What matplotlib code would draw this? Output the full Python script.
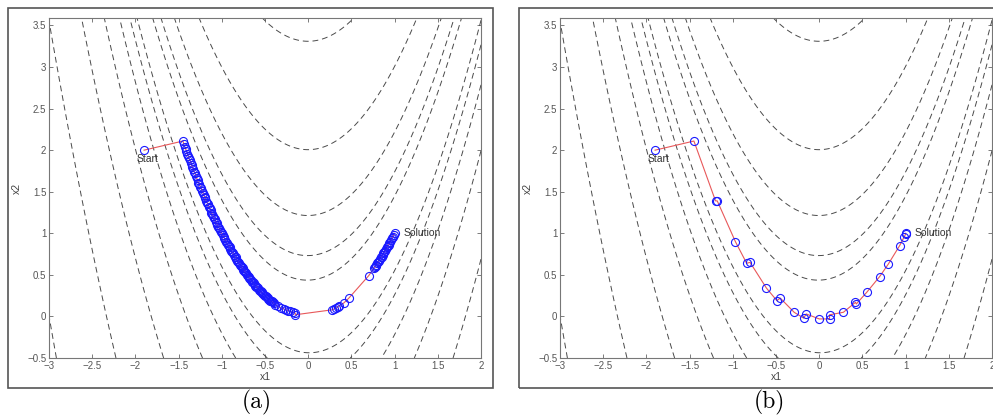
import numpy as np
import matplotlib
matplotlib.use("Agg")
import matplotlib.pyplot as plt
from matplotlib.patches import Rectangle
from matplotlib.ticker import FuncFormatter

# contour levels of the banana function, as exponents of e
level_exps = [3, 4, 5, 6, 7, 8, 9]

xticks = [-3, -2.5, -2, -1.5, -1, -0.5, 0, 0.5, 1, 1.5, 2]
yticks = [-0.5, 0, 0.5, 1, 1.5, 2, 2.5, 3, 3.5]

# (a) steepest descent iterates
a_x1 = [-1.90,
        -1.45, -1.44, -1.43, -1.42, -1.41, -1.40, -1.39, -1.38, -1.37, -1.36,
        -1.35, -1.34, -1.33, -1.32, -1.31, -1.30, -1.29, -1.28, -1.27, -1.26,
        -1.25, -1.24, -1.23, -1.22, -1.21, -1.20, -1.19, -1.18, -1.17, -1.16,
        -1.15, -1.14, -1.13, -1.12, -1.11, -1.10, -1.09, -1.08, -1.07, -1.06,
        -1.05, -1.04, -1.03, -1.02, -1.01, -1.00, -0.99, -0.98, -0.97, -0.96,
        -0.95, -0.94, -0.93, -0.92, -0.91, -0.90, -0.89, -0.88, -0.87, -0.86,
        -0.85, -0.84, -0.83, -0.82, -0.81, -0.80, -0.79, -0.78, -0.77, -0.76,
        -0.75, -0.74, -0.73, -0.72, -0.71, -0.70, -0.69, -0.68, -0.67, -0.66,
        -0.65, -0.64, -0.63, -0.62, -0.61, -0.60, -0.59, -0.58, -0.57, -0.56,
        -0.55, -0.54, -0.53, -0.52, -0.51, -0.50, -0.49, -0.48, -0.47, -0.46,
        -0.45, -0.44, -0.43, -0.42, -0.41, -0.40, -0.38, -0.35, -0.31, -0.28,
        -0.26, -0.23, -0.21, -0.18, -0.15, -0.15,
        0.28, 0.30, 0.32, 0.34, 0.36, 0.41, 0.47, 0.70,
        0.76, 0.77, 0.78, 0.79, 0.80, 0.81, 0.82, 0.83, 0.84, 0.85, 0.86, 0.87, 0.88,
        0.89, 0.90, 0.91, 0.92, 0.93, 0.94, 0.95, 0.96, 0.97, 0.98, 0.99, 1.00]
a_x2 = [2.00,
        2.11, 2.07, 2.04, 2.02, 1.99, 1.96, 1.93, 1.90, 1.88, 1.85,
        1.82, 1.80, 1.77, 1.74, 1.72, 1.69, 1.66, 1.64, 1.61, 1.59,
        1.56, 1.54, 1.51, 1.49, 1.46, 1.44, 1.42, 1.39, 1.37, 1.35,
        1.32, 1.30, 1.28, 1.25, 1.23, 1.21, 1.19, 1.17, 1.14, 1.12,
        1.10, 1.08, 1.06, 1.04, 1.02, 1.00, 0.98, 0.96, 0.94, 0.92,
        0.90, 0.88, 0.86, 0.85, 0.83, 0.81, 0.79, 0.77, 0.76, 0.74,
        0.72, 0.71, 0.69, 0.67, 0.66, 0.64, 0.62, 0.61, 0.59, 0.58,
        0.56, 0.55, 0.53, 0.52, 0.50, 0.49, 0.48, 0.46, 0.45, 0.44,
        0.42, 0.41, 0.40, 0.38, 0.37, 0.36, 0.35, 0.34, 0.32, 0.31,
        0.30, 0.29, 0.28, 0.27, 0.26, 0.25, 0.24, 0.23, 0.22, 0.21,
        0.20, 0.19, 0.18, 0.18, 0.17, 0.16, 0.14, 0.12, 0.10, 0.09,
        0.08, 0.07, 0.06, 0.05, 0.04, 0.02,
        0.08, 0.09, 0.10, 0.11, 0.13, 0.16, 0.22, 0.49,
        0.58, 0.59, 0.61, 0.62, 0.64, 0.66, 0.67, 0.69, 0.71, 0.72, 0.74, 0.76, 0.77,
        0.79, 0.81, 0.83, 0.85, 0.86, 0.88, 0.90, 0.92, 0.94, 0.96, 0.98, 1.00]

# (b) quasi-Newton iterates
b_x1 = [-1.90, -1.45, -1.20, -1.18, -0.97, -0.84, -0.80, -0.61, -0.49, -0.45, -0.29,
        -0.18, -0.15, 0.00, 0.12, 0.12, 0.28, 0.42, 0.43, 0.55, 0.70, 0.80, 0.93,
        0.98, 1.00, 1.00]
b_x2 = [2.00, 2.11, 1.39, 1.39, 0.90, 0.64, 0.65, 0.34, 0.19, 0.22, 0.05,
        -0.02, 0.03, -0.03, -0.03, 0.02, 0.05, 0.17, 0.15, 0.29, 0.48, 0.63, 0.85,
        0.95, 0.99, 1.00]

start_pt = (-1.99, 1.89)
sol_pt = (1.10, 1.00)

W, H = 993, 418
fig = plt.figure(figsize=(W / 100, H / 100), dpi=100)

gx, gy = np.meshgrid(np.linspace(-3, 2, 500), np.linspace(-0.5, 3.6, 500))
gz = 100 * (gy - gx ** 2) ** 2 + (1 - gx) ** 2
levels = np.exp(level_exps)


def fmt(v, pos):
    return ("%g" % v).replace("-", "\u2212")


def panel(left, x1, x2, label, frame_left, frame_w, lab_x):
    ax = fig.add_axes([left / W, 1 - 358 / H, 432 / W, 340 / H])
    ax.contour(gx, gy, gz, levels=levels, colors="#4a4a4a", linewidths=0.7,
               linestyles=[(0, (6, 4))])
    ax.plot(x1, x2, color="#e8585a", lw=0.8, zorder=3)
    ax.plot(x1, x2, ls="none", marker="o", ms=5.8, mfc="none", mec="#1a1aff",
            mew=0.8, zorder=4)
    ax.text(start_pt[0], start_pt[1], "Start", fontsize=7.5, va="center",
            family="Liberation Sans", color="#333333")
    ax.text(sol_pt[0], sol_pt[1], "Solution", fontsize=7.5, va="center",
            family="Liberation Sans", color="#333333")
    ax.set_xlim(-3, 2)
    ax.set_ylim(-0.5, 3.59)
    ax.set_xticks(xticks)
    ax.set_yticks(yticks)
    ax.xaxis.set_major_formatter(FuncFormatter(fmt))
    ax.yaxis.set_major_formatter(FuncFormatter(fmt))
    ax.tick_params(direction="in", top=True, right=True, length=3, width=0.6,
                   colors="#666666", labelcolor="#555555", labelsize=7, pad=2)
    for t in ax.get_xticklabels() + ax.get_yticklabels():
        t.set_family("Liberation Sans")
    for s in ax.spines.values():
        s.set_color("#777777")
        s.set_linewidth(0.8)
    ax.set_xlabel("x1", fontsize=7.5, color="#444444", labelpad=1,
                  family="Liberation Sans")
    ax.set_ylabel("x2", fontsize=7.5, color="#444444", labelpad=4,
                  family="Liberation Sans")
    fig.patches.append(Rectangle((frame_left / W, 1 - 388 / H), frame_w / W, 380 / H,
                                 transform=fig.transFigure, fill=False,
                                 ec="#555555", lw=1.2))
    fig.text(lab_x / W, 1 - 402 / H, label, ha="center", va="center",
             fontsize=17, family="cmr10")
    return ax


panel(49, a_x1, a_x2, "(a)", 8, 485, 257)
panel(560, b_x1, b_x2, "(b)", 519, 500, 769)

fig.savefig("out.png", dpi=100)
